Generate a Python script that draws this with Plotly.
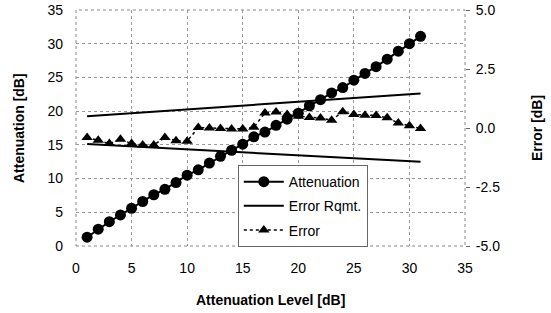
import plotly.graph_objects as go

levels = list(range(1, 32))
attenuation = [1.3, 2.5, 3.6, 4.6, 5.6, 6.6, 7.6, 8.4, 9.4, 10.5,
               11.3, 12.3, 13.3, 14.2, 15.1, 16.2, 16.9, 17.9, 18.8, 19.7,
               20.8, 21.7, 22.7, 23.5, 24.6, 25.6, 26.6, 27.7, 28.9, 30.0, 31.1]
error = [-0.40, -0.52, -0.66, -0.48, -0.66, -0.72, -0.72, -0.40, -0.54, -0.56,
         0.02, 0.0, -0.02, -0.04, -0.04, 0.03, 0.64, 0.68, 0.57, 0.50,
         0.45, 0.42, 0.33, 0.69, 0.57, 0.54, 0.53, 0.43, 0.21, 0.10, -0.02]
rqmt_x = [1, 31]
rqmt_upper = [0.50, 1.46]
rqmt_lower = [-0.68, -1.43]

x_ticks = [0, 5, 10, 15, 20, 25, 30, 35]
y_ticks = [0, 5, 10, 15, 20, 25, 30, 35]
y2_ticks = [-5.0, -2.5, 0.0, 2.5, 5.0]
y2_labels = ["-5.0", "-2.5", "0.0", "2.5", "5.0"]

FONT = "Liberation Sans, Arial, sans-serif"

fig = go.Figure()
fig.add_trace(go.Scatter(
    x=levels, y=attenuation, name="Attenuation", mode="lines+markers",
    line=dict(color="black", width=2),
    marker=dict(symbol="circle", size=11, color="black"),
    yaxis="y", legendgroup="a"))
fig.add_trace(go.Scatter(
    x=rqmt_x + [None] + rqmt_x, y=rqmt_upper + [None] + rqmt_lower,
    name="Error Rqmt.", mode="lines",
    line=dict(color="black", width=2), yaxis="y2", connectgaps=False,
    legendgroup="b"))
fig.add_trace(go.Scatter(
    x=levels, y=error, name="Error", mode="lines+markers",
    line=dict(color="black", width=1.5, dash="dot"),
    marker=dict(symbol="triangle-up", size=10, color="black"),
    yaxis="y2", legendgroup="c"))

fig.add_shape(type="rect", xref="paper", yref="paper", x0=0, y0=0, x1=1, y1=1,
              line=dict(color="#888888", width=1, dash="dot"), layer="below")

title_font = dict(family=FONT, size=14, color="black")
fig.add_annotation(text="<b>Attenuation Level [dB]</b>", xref="paper", yref="paper",
                   x=0.5, y=-0.229, xanchor="center", yanchor="middle",
                   showarrow=False, font=title_font)
fig.add_annotation(text="<b>Attenuation [dB]</b>", xref="paper", yref="paper",
                   x=-0.1465, y=0.5, xanchor="center", yanchor="middle",
                   textangle=-90, showarrow=False, font=title_font)
fig.add_annotation(text="<b>Error [dB]</b>", xref="paper", yref="paper",
                   x=1.185, y=0.5, xanchor="center", yanchor="middle",
                   textangle=-90, showarrow=False, font=title_font)

fig.update_layout(
    width=551, height=313,
    margin=dict(l=76, r=86, t=10, b=67),
    paper_bgcolor="white", plot_bgcolor="white",
    font=dict(family=FONT, size=14, color="black"),
    showlegend=True,
    legend=dict(x=0.416, y=0.343, xanchor="left", yanchor="top",
                bgcolor="white", bordercolor="#666666", borderwidth=1,
                font=dict(size=14, family=FONT), tracegroupgap=3,
                itemwidth=40),
    xaxis=dict(range=[0, 35], tickvals=x_ticks, showgrid=True,
               gridcolor="#999999", griddash="dot", gridwidth=1,
               zeroline=False, showline=False, ticks="",
               ticklabelstandoff=12, automargin=False,
               ticklabeloverflow="allow"),
    yaxis=dict(range=[0, 35], tickvals=y_ticks, showgrid=True,
               gridcolor="#999999", griddash="dot", gridwidth=1,
               zeroline=False, showline=False, ticks="",
               ticklabelstandoff=12, automargin=False,
               ticklabeloverflow="allow"),
    yaxis2=dict(range=[-5, 5], tickvals=y2_ticks, ticktext=y2_labels,
                overlaying="y", side="right", showgrid=False, zeroline=False,
                showline=False, ticks="outside", ticklen=4, tickcolor="#666666",
                ticklabelstandoff=3, automargin=False,
                ticklabeloverflow="allow"),
)

fig.write_html(
    "out.html",
    config={"displayModeBar": False},
    post_script="document.body.style.margin='0';document.body.style.padding='0';",
)
